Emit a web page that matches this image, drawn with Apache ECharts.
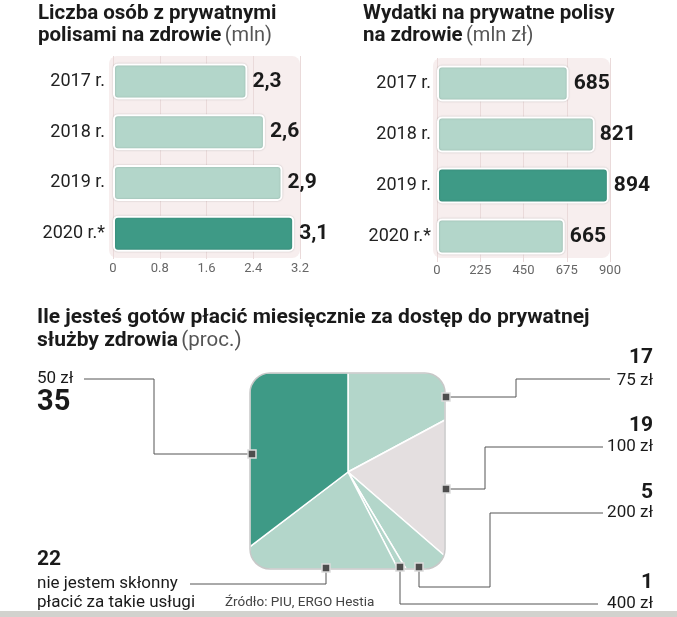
<!DOCTYPE html>
<html><head><meta charset="utf-8">
<script src="https://cdn.jsdelivr.net/npm/echarts@6/dist/echarts.min.js"></script>
<style>html,body{margin:0;padding:0;background:#fff}#c{width:677px;height:617px}</style>
</head><body><div id="c"></div>
<script>
// ---- data ----
const years = ['2017 r.', '2018 r.', '2019 r.', '2020 r.*'];
const insuredMln = [2.3, 2.6, 2.9, 3.1];
const spendingMlnZl = [685, 821, 894, 665];
const insuredAxis = {min: 0, max: 3.2, interval: 0.8};
const spendingAxis = {min: 0, max: 900, interval: 225};
const payLabels = ['75 zł', '100 zł', '200 zł', '400 zł', 'nie jestem skłonny płacić za takie usługi', '50 zł'];
const payShares = [17, 19, 5, 1, 22, 35];

// ---- styles ----
const LIGHT = '#b3d6ca', DARK = '#3e9a86', GREY = '#e4dfe0';
const FONT = 'Roboto';
const chart = echarts.init(document.getElementById('c'), null, {renderer: 'canvas'});

function barData(vals, hi) {
  return vals.map((v, i) => ({value: v, itemStyle: {color: i === hi ? DARK : LIGHT}}));
}
function barSeries(idx, vals, hi, fmt) {
  return {
    type: 'bar', xAxisIndex: idx, yAxisIndex: idx, data: barData(vals, hi), barWidth: 36,
    itemStyle: {borderColor: '#ffffff', borderWidth: 2, borderRadius: 4, shadowColor: 'rgba(0,0,0,0.18)', shadowBlur: 2},
    label: {show: true, position: 'right', distance: 5, fontFamily: FONT, fontWeight: 'bold', fontSize: 21, color: '#1a1a1a', formatter: fmt},
    silent: true, z: 3
  };
}
function xAx(idx, ax, margin) {
  return {type: 'value', gridIndex: idx, min: ax.min, max: ax.max, interval: ax.interval,
    axisLine: {show: false}, axisTick: {show: false},
    splitLine: {show: true, lineStyle: {color: '#eadada', width: 1}},
    axisLabel: {margin: margin, fontFamily: FONT, fontSize: 13, color: '#666', showMaxLabel: true}};
}
function yAx(idx, margin) {
  return {type: 'category', gridIndex: idx, data: years, inverse: true,
    axisLine: {show: false}, axisTick: {show: false},
    axisLabel: {margin: margin, fontFamily: FONT, fontSize: 18, color: '#222'}};
}

// ---- mask (rounded square clip for the pie) ----
const sq = {L: 250, T: 373, R: 445, B: 569, r: 20};
const pc = [348, 472], ext = 160;
function cornerPoly(cx0, cy0, ccx, ccy, a0) {
  const pts = [[cx0, cy0]];
  for (let k = 0; k <= 16; k++) {
    const a = (a0 + 90 * k / 16) * Math.PI / 180;
    pts.push([ccx + sq.r * Math.cos(a), ccy + sq.r * Math.sin(a)]);
  }
  return pts;
}
const maskFill = {fill: '#ffffff'};
const mask = [
  {type: 'rect', shape: {x: pc[0] - ext, y: pc[1] - ext, width: 2 * ext, height: sq.T - (pc[1] - ext) + 0.5}, style: maskFill, z: 100},
  {type: 'rect', shape: {x: pc[0] - ext, y: sq.B - 0.5, width: 2 * ext, height: pc[1] + ext - sq.B}, style: maskFill, z: 100},
  {type: 'rect', shape: {x: pc[0] - ext, y: sq.T, width: sq.L - (pc[0] - ext) + 0.5, height: sq.B - sq.T}, style: maskFill, z: 100},
  {type: 'rect', shape: {x: sq.R - 0.5, y: sq.T, width: pc[0] + ext - sq.R, height: sq.B - sq.T}, style: maskFill, z: 100},
  {type: 'polygon', shape: {points: cornerPoly(sq.L, sq.T, sq.L + sq.r, sq.T + sq.r, 180)}, style: maskFill, z: 100},
  {type: 'polygon', shape: {points: cornerPoly(sq.R, sq.T, sq.R - sq.r, sq.T + sq.r, 270)}, style: maskFill, z: 100},
  {type: 'polygon', shape: {points: cornerPoly(sq.R, sq.B, sq.R - sq.r, sq.B - sq.r, 0)}, style: maskFill, z: 100},
  {type: 'polygon', shape: {points: cornerPoly(sq.L, sq.B, sq.L + sq.r, sq.B - sq.r, 90)}, style: maskFill, z: 100},
  {type: 'rect', shape: {x: sq.L, y: sq.T, width: sq.R - sq.L, height: sq.B - sq.T, r: sq.r}, style: {fill: 'none', stroke: '#c8c8c8', lineWidth: 1.5}, z: 110}
];

// ---- annotations ----
const LINE = {stroke: '#555', lineWidth: 1, fill: 'none'};
function pl(points) { return {type: 'polyline', shape: {points: points}, style: LINE, z: 200}; }
function mk(x, y) { return {type: 'rect', shape: {x: x - 4, y: y - 4, width: 8, height: 8}, style: {fill: '#4d4d4d', stroke: '#dcdcdc', lineWidth: 1.5}, z: 210}; }
function tx(x, y, text, o) {
  return {type: 'text', x: x, y: y, z: 220, style: Object.assign({text: text, fontFamily: FONT, fontSize: 17, fill: '#1a1a1a', textVerticalAlign: 'middle', textAlign: 'left'}, o || {})};
}
function title2(x, y, bold, light, size) {
  return {type: 'text', x: x, y: y, z: 220, style: {rich: {
    b: {fontFamily: FONT, fontSize: size, fontWeight: 'bold', fill: '#1a1a1a'},
    l: {fontFamily: FONT, fontSize: size - 0.5, fill: '#555'}},
    text: '{b|' + bold + '} {l|' + light + '}', textVerticalAlign: 'middle'}};
}
const TS = 20.5, BTS = 21;
const annotations = [
  // top titles
  tx(38, 14, 'Liczba osób z prywatnymi', {fontSize: TS, fontWeight: 'bold'}),
  title2(38, 36, 'polisami na zdrowie', '(mln)', TS),
  tx(363, 14, 'Wydatki na prywatne polisy', {fontSize: TS, fontWeight: 'bold'}),
  title2(363, 36, 'na zdrowie', '(mln zł)', TS),
  // bottom title
  tx(37, 318, 'Ile jesteś gotów płacić miesięcznie za dostęp do prywatnej', {fontSize: BTS, fontWeight: 'bold'}),
  title2(37, 341, 'służby zdrowia', '(proc.)', BTS),
  // left labels
  tx(37, 379, payLabels[5]),
  tx(37, 403, String(payShares[5]), {fontSize: 29, fontWeight: 'bold'}),
  tx(37, 560, String(payShares[4]), {fontSize: 21, fontWeight: 'bold'}),
  tx(37, 584, 'nie jestem skłonny'),
  tx(37, 603, 'płacić za takie usługi'),
  tx(225, 603, 'Źródło: PIU, ERGO Hestia', {fontSize: 13.5, fill: '#444'}),
  // right labels
  tx(653, 358, String(payShares[0]), {fontSize: 21, fontWeight: 'bold', textAlign: 'right'}),
  tx(653, 381, payLabels[0], {textAlign: 'right'}),
  tx(653, 426, String(payShares[1]), {fontSize: 21, fontWeight: 'bold', textAlign: 'right'}),
  tx(653, 447, payLabels[1], {textAlign: 'right'}),
  tx(653, 493, String(payShares[2]), {fontSize: 21, fontWeight: 'bold', textAlign: 'right'}),
  tx(653, 513, payLabels[2], {textAlign: 'right'}),
  tx(653, 583, String(payShares[3]), {fontSize: 21, fontWeight: 'bold', textAlign: 'right'}),
  tx(653, 604, payLabels[3], {textAlign: 'right'}),
  // leader lines
  pl([[84, 379], [154, 379], [154, 454], [252, 454]]),
  pl([[190, 584], [326, 584], [326, 568]]),
  pl([[446, 397], [516, 397], [516, 379], [610, 379]]),
  pl([[446, 489], [485, 489], [485, 447], [603, 447]]),
  pl([[419, 567], [419, 587], [490, 587], [490, 513], [603, 513]]),
  pl([[400, 567], [400, 604], [598, 604]]),
  mk(252, 454), mk(326, 568), mk(446, 397), mk(446, 489), mk(419, 567), mk(400, 567),
  // bottom band
  {type: 'rect', shape: {x: 0, y: 611, width: 677, height: 6}, style: {fill: '#d2d2ce'}, z: 220},
  // plot backgrounds
  {type: 'rect', shape: {x: 109, y: 56, width: 191, height: 202, r: 8}, style: {fill: '#f7eeee'}, z: -10},
  {type: 'rect', shape: {x: 433, y: 58, width: 177, height: 200, r: 8}, style: {fill: '#f7eeee'}, z: -10}
];

chart.setOption({
  animation: false,
  backgroundColor: '#ffffff',
  grid: [
    {left: 113, top: 56, width: 187, height: 203},
    {left: 437, top: 58, width: 173, height: 204}
  ],
  xAxis: [xAx(0, insuredAxis, 3), xAx(1, spendingAxis, 2)],
  yAxis: [yAx(0, 8), yAx(1, 6)],
  series: [
    barSeries(0, insuredMln, 3, p => String(p.value).replace('.', ',')),
    barSeries(1, spendingMlnZl, 2, p => String(p.value)),
    {
      type: 'pie', center: pc, radius: 145, startAngle: 90, clockwise: true, silent: true,
      label: {show: false}, labelLine: {show: false}, z: 2,
      itemStyle: {borderColor: '#ffffff', borderWidth: 1.5},
      data: payLabels.map((n, i) => ({name: n, value: payShares[i],
        itemStyle: {color: i === 5 ? DARK : (i === 1 ? GREY : LIGHT)}}))
    }
  ],
  graphic: {elements: mask.concat(annotations)}
});
</script></body></html>
